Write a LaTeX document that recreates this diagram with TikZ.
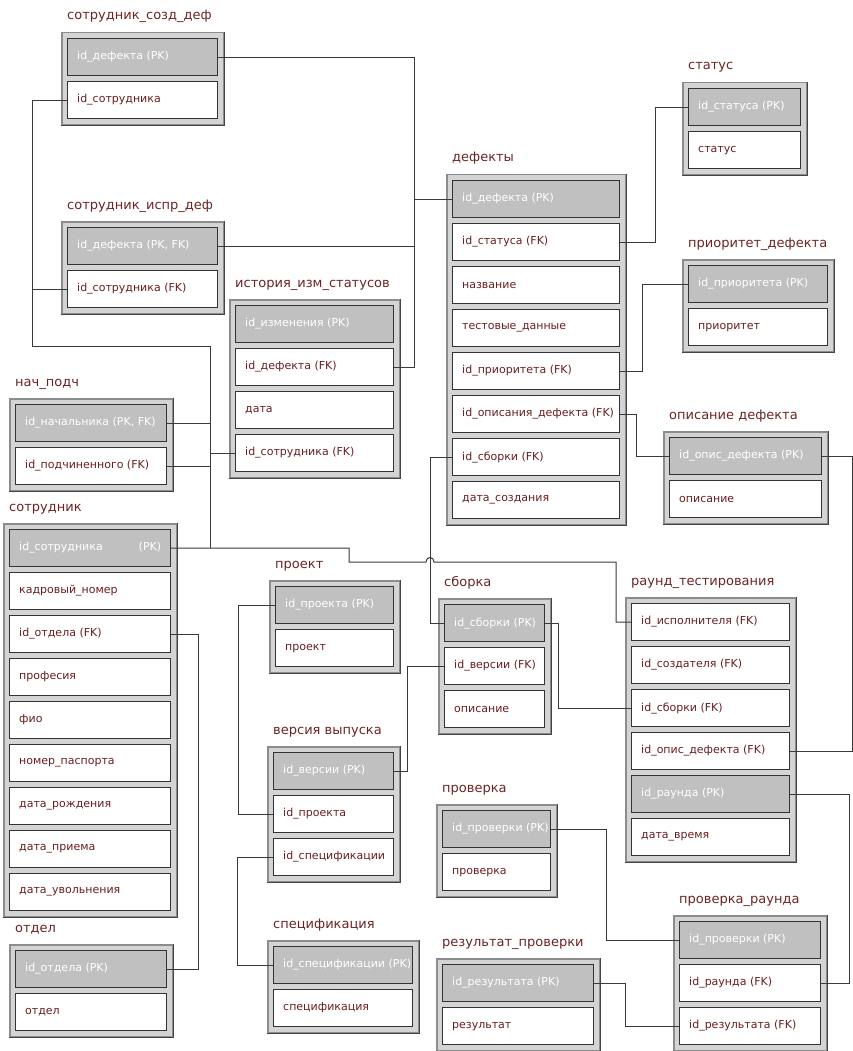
\documentclass[tikz,border=0pt]{standalone}
\usepackage{fontspec}
\newfontfamily\djv{DejaVu Sans}
\definecolor{keygray}{HTML}{C0C0C0}
\definecolor{boxgray}{HTML}{D4D4D4}
\definecolor{boxborder}{HTML}{8C8C8C}
\definecolor{boxdark}{HTML}{444444}
\definecolor{rowborder}{HTML}{333333}
\definecolor{rowtext}{HTML}{6B1E1E}
\definecolor{titletext}{HTML}{6E2424}
\definecolor{connc}{HTML}{3A3A3A}
\tikzset{
  tabbox/.style={rectangle, fill=boxgray, draw=boxborder, line width=1.5pt, inner sep=0pt},
  tabshade/.style={draw=boxdark, line width=0.9pt},
  krow/.style={rectangle, fill=keygray, draw=rowborder, line width=1.2pt, inner sep=0pt},
  nrow/.style={rectangle, fill=white, draw=rowborder, line width=1.2pt, inner sep=0pt},
  ktxt/.style={text=white, font=\djv\fontsize{11}{13}\selectfont, inner sep=0pt},
  ntxt/.style={text=rowtext, font=\djv\fontsize{11}{13}\selectfont, inner sep=0pt},
  tabtitle/.style={text=titletext, font=\djv\fontsize{13}{15}\selectfont, inner sep=0pt},
  conn/.style={draw=connc, line width=1pt},
}
% #1 name, #2 x1, #3 y1, #4 x2, #5 title, #6 number of rows, #7 rows
\newcommand\etable[7]{%
  \node[tabbox, anchor=north west, minimum width={(#4-#2)*1pt}, minimum height={(43*#6+6)*1pt}] (#1) at (#2,#3) {};
  \draw[tabshade] ([xshift=-0.4pt]#1.north east) -- ([xshift=-0.4pt,yshift=0.4pt]#1.south east) -- ([yshift=0.4pt]#1.south west);
  \node[tabtitle, anchor=base west] (#1-title) at (#2+6,#3-12) {#5};
  \foreach \rsty/\rtxt [count=\ri] in {#7} {
    \node[\rsty row, anchor=north west, minimum width={(#4-#2-12)*1pt}, minimum height=37pt] (#1-\ri) at (#2+6,{#3+6+43*(\ri-1)}) {};
    \node[\rsty txt, anchor=west] (#1-\ri-t) at ([xshift=10pt]#1-\ri.west) {\rtxt};
  }%
}
\begin{document}
\begin{tikzpicture}[x=1pt,y=-1pt]
\useasboundingbox[fill=white] (0,0) rectangle (853,1051);

\etable{sozd}{61}{32}{223}{сотрудник\_созд\_деф}{2}{k/{id\_дефекта (PK)},n/{id\_сотрудника}}
\etable{ispr}{61}{221}{223}{сотрудник\_испр\_деф}{2}{k/{id\_дефекта (PK, FK)},n/{id\_сотрудника (FK)}}
\etable{ist}{229}{299}{399}{история\_изм\_статусов}{4}{k/{id\_изменения (PK)},n/{id\_дефекта (FK)},n/{дата},n/{id\_сотрудника (FK)}}
\etable{nach}{9}{398}{172}{нач\_подч}{2}{k/{id\_начальника (PK, FK)},n/{id\_подчиненного (FK)}}
\etable{sotr}{3}{523}{176}{сотрудник}{9}{k/{id\_сотрудника\hspace{36pt}(PK)},n/{кадровый\_номер},n/{id\_отдела (FK)},n/{професия},n/{фио},n/{номер\_паспорта},n/{дата\_рождения},n/{дата\_приема},n/{дата\_увольнения}}
\etable{otdel}{9}{944}{172}{отдел}{2}{k/{id\_отдела (PK)},n/{отдел}}
\etable{def}{446}{174}{625}{дефекты}{8}{k/{id\_дефекта (PK)},n/{id\_статуса (FK)},n/{название},n/{тестовые\_данные},n/{id\_приоритета (FK)},n/{id\_описания\_дефекта (FK)},n/{id\_сборки (FK)},n/{дата\_создания}}
\etable{status}{682}{82}{806}{статус}{2}{k/{id\_статуса (PK)},n/{статус}}
\etable{prior}{682}{259}{833}{приоритет\_дефекта}{2}{k/{id\_приоритета (PK)},n/{приоритет}}
\etable{opis}{663}{431}{827}{описание дефекта}{2}{k/{id\_опис\_дефекта (PK)},n/{описание}}
\etable{proekt}{269}{580}{399}{проект}{2}{k/{id\_проекта (PK)},n/{проект}}
\etable{sborka}{438}{598}{550}{сборка}{3}{k/{id\_сборки (PK)},n/{id\_версии (FK)},n/{описание}}
\etable{versia}{267}{746}{399}{версия выпуска}{3}{k/{id\_версии (PK)},n/{id\_проекта},n/{id\_спецификации}}
\etable{spec}{267}{940}{418}{спецификация}{2}{k/{id\_спецификации (PK)},n/{спецификация}}
\etable{raund}{625}{597}{795}{раунд\_тестирования}{6}{n/{id\_исполнителя (FK)},n/{id\_создателя (FK)},n/{id\_сборки (FK)},n/{id\_опис\_дефекта (FK)},k/{id\_раунда (PK)},n/{дата\_время}}
\etable{proverka}{436}{804}{556}{проверка}{2}{k/{id\_проверки (PK)},n/{проверка}}
\etable{rezult}{436}{958}{599}{результат\_проверки}{2}{k/{id\_результата (PK)},n/{результат}}
\etable{prraund}{673}{915}{826}{проверка\_раунда}{3}{k/{id\_проверки (PK)},n/{id\_раунда (FK)},n/{id\_результата (FK)}}

% defect id bus
\coordinate (xb1) at (414,0);
\draw[conn] (sozd-1.east) -- (sozd-1.east -| xb1) -- (ist-2.east -| xb1) -- (ist-2.east);
\draw[conn] (ispr-1.east) -- (ispr-1.east -| xb1);
\draw[conn] (def-1.west) -- (def-1.west -| xb1);

% employee id bus
\coordinate (xb2) at (32,346);
\coordinate (xb3) at (210,346);
\draw[conn] (sozd-2.west) -| (xb2) -- (xb3) -- (xb3 |- sotr-1.east);
\draw[conn] (ispr-2.west) -- (ispr-2.west -| xb2);
\draw[conn] (nach-1.east) -- (nach-1.east -| xb3);
\draw[conn] (nach-2.east) -- (nach-2.east -| xb3);
\draw[conn] (ist-4.west) -- (ist-4.west -| xb3);

\coordinate (xb4) at (349,562);
\coordinate (hopL) at (426,562);
\coordinate (hopR) at (434,562);
\coordinate (xb5) at (616,562);
\draw[conn] (sotr-1.east) -| (xb4) -- (hopL) .. controls ([yshift=6pt]hopL) and ([yshift=6pt]hopR) .. (hopR) -- (xb5) |- (raund-1.west);

\coordinate (xb6) at (430,0);
\draw[conn] (def-7.west) -- (def-7.west -| xb6) |- (sborka-1.west);

\coordinate (xb7) at (655,0);
\draw[conn] (def-2.east) -- (def-2.east -| xb7) |- (status-1.west);
\coordinate (xb8) at (642,0);
\draw[conn] (def-5.east) -- (def-5.east -| xb8) |- (prior-1.west);
\coordinate (xb9) at (636,0);
\draw[conn] (def-6.east) -- (def-6.east -| xb9) |- (opis-1.west);
\coordinate (xb10) at (852,0);
\draw[conn] (opis-1.east) -- (opis-1.east -| xb10) |- (raund-4.east);
\coordinate (xb11) at (558,0);
\draw[conn] (sborka-1.east) -- (sborka-1.east -| xb11) |- (raund-3.west);
\coordinate (xb12) at (407,0);
\draw[conn] (sborka-2.west) -- (sborka-2.west -| xb12) |- (versia-1.east);
\coordinate (xb13) at (238,0);
\draw[conn] (proekt-1.west) -- (proekt-1.west -| xb13) |- (versia-2.west);
\coordinate (xb14) at (237,0);
\draw[conn] (versia-3.west) -- (versia-3.west -| xb14) |- (spec-1.west);
\coordinate (xb15) at (198,0);
\draw[conn] (sotr-3.east) -- (sotr-3.east -| xb15) |- (otdel-1.east);
\coordinate (xb16) at (849,0);
\draw[conn] (raund-5.east) -- (raund-5.east -| xb16) |- (prraund-2.east);
\coordinate (xb17) at (606,0);
\draw[conn] (proverka-1.east) -- (proverka-1.east -| xb17) |- (prraund-1.west);
\coordinate (xb18) at (625,0);
\draw[conn] (rezult-1.east) -- (rezult-1.east -| xb18) |- (prraund-3.west);
\end{tikzpicture}
\end{document}
